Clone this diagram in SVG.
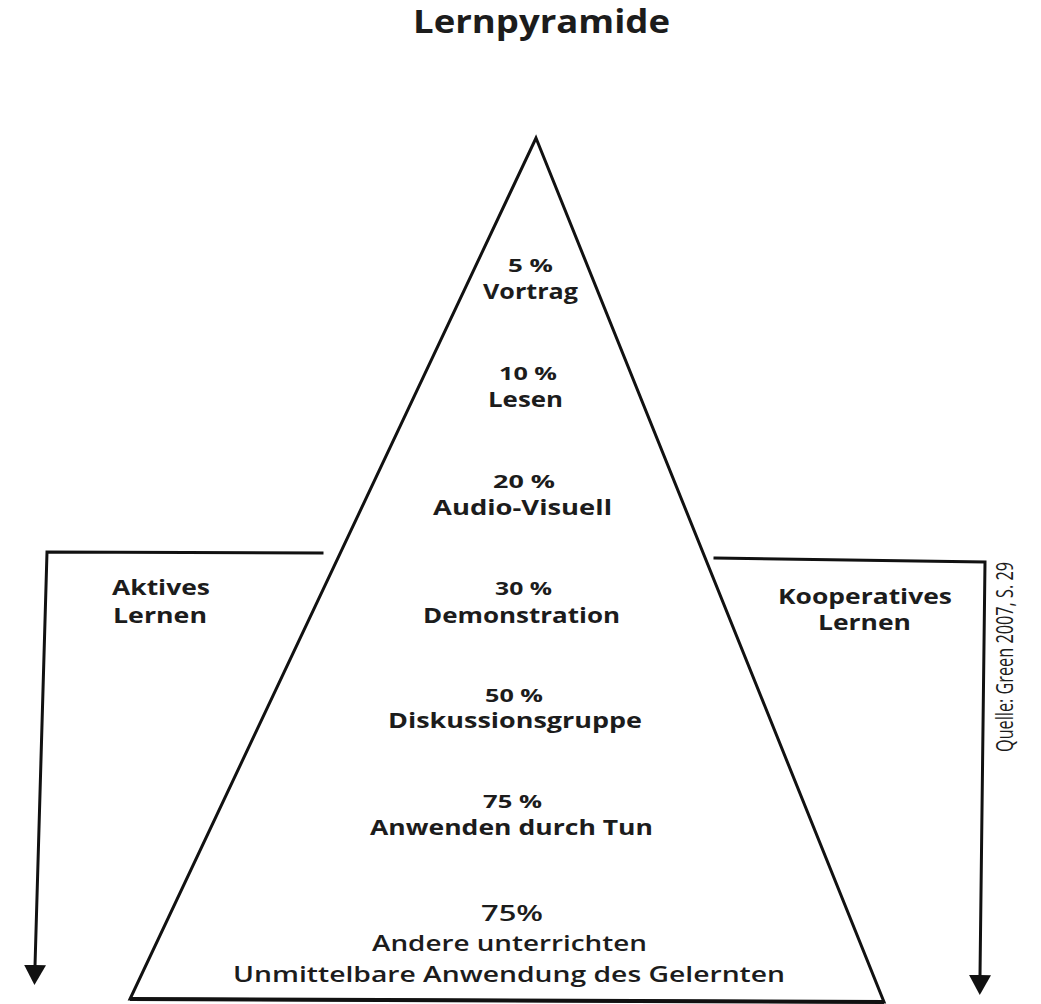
<svg xmlns="http://www.w3.org/2000/svg" width="1041" height="1004" viewBox="0 0 1041 1004">
  <style>
    .t { font-family: "Open Sans", "Liberation Sans", sans-serif; fill: #1c1c1c; text-anchor: middle; }
    .b { font-weight: 700; }
    .sb { font-weight: 600; }
    .pct { font-size: 18px; }
    .lbl { font-size: 21px; }
    .low { font-size: 21.5px; }
    .ln { fill: none; stroke: #111; stroke-width: 3; stroke-linejoin: miter; stroke-linecap: square; }
  </style>
  <defs>
    <marker id="arrow" viewBox="0 0 20 22" markerWidth="20" markerHeight="22" refX="1" refY="11" orient="auto" markerUnits="userSpaceOnUse">
      <path d="M0,0 L20,11 L0,22 Z" fill="#111"/>
    </marker>
  </defs>
  <rect width="1041" height="1004" fill="#ffffff"/>

  <g id="title">
    <text class="t b" x="541.5" y="33" font-size="32" textLength="257" lengthAdjust="spacingAndGlyphs">Lernpyramide</text>
  </g>

  <g id="pyramid">
    <path class="ln" d="M536,138 L884,1002 L130,999 Z"/>
    <path d="M130,999 L884,1002" stroke="#111" stroke-width="4" fill="none"/>
  </g>

  <g id="connectors">
    <path class="ln" d="M322,553 L47,552 L35,966" marker-end="url(#arrow)"/>
    <path class="ln" d="M715,558 L985,562 L980,976" marker-end="url(#arrow)"/>
  </g>

  <g id="level-vortrag">
    <text class="t b pct" x="530.5" y="272" textLength="45" lengthAdjust="spacingAndGlyphs">5 %</text>
    <text class="t b lbl" x="530.5" y="299" textLength="95" lengthAdjust="spacingAndGlyphs">Vortrag</text>
  </g>
  <g id="level-lesen">
    <text class="t b pct" x="528" y="380" textLength="58" lengthAdjust="spacingAndGlyphs">10 %</text>
    <text class="t b lbl" x="525.5" y="407" textLength="75" lengthAdjust="spacingAndGlyphs">Lesen</text>
  </g>
  <g id="level-audio">
    <text class="t b pct" x="524" y="488" textLength="62" lengthAdjust="spacingAndGlyphs">20 %</text>
    <text class="t b lbl" x="522.5" y="515" textLength="179" lengthAdjust="spacingAndGlyphs">Audio-Visuell</text>
  </g>
  <g id="level-demo">
    <text class="t b pct" x="523.5" y="595" textLength="57" lengthAdjust="spacingAndGlyphs">30 %</text>
    <text class="t b lbl" x="521.5" y="623" textLength="197" lengthAdjust="spacingAndGlyphs">Demonstration</text>
  </g>
  <g id="level-diskussion">
    <text class="t b pct" x="514" y="702" textLength="58" lengthAdjust="spacingAndGlyphs">50 %</text>
    <text class="t b lbl" x="515" y="728" textLength="254" lengthAdjust="spacingAndGlyphs">Diskussionsgruppe</text>
  </g>
  <g id="level-tun">
    <text class="t b pct" x="512.5" y="808" textLength="59" lengthAdjust="spacingAndGlyphs">75 %</text>
    <text class="t b lbl" x="511.5" y="835" textLength="283" lengthAdjust="spacingAndGlyphs">Anwenden durch Tun</text>
  </g>
  <g id="level-unterrichten">
    <text class="t sb low" x="512" y="921" textLength="62" lengthAdjust="spacingAndGlyphs">75%</text>
    <text class="t sb low" x="509.5" y="951" textLength="275" lengthAdjust="spacingAndGlyphs">Andere unterrichten</text>
    <text class="t sb low" x="509" y="982" textLength="552" lengthAdjust="spacingAndGlyphs">Unmittelbare Anwendung des Gelernten</text>
  </g>

  <g id="aktives-lernen">
    <text class="t b lbl" x="161" y="595" textLength="98" lengthAdjust="spacingAndGlyphs">Aktives</text>
    <text class="t b lbl" x="160" y="623" textLength="94" lengthAdjust="spacingAndGlyphs">Lernen</text>
  </g>
  <g id="kooperatives-lernen">
    <text class="t b lbl" x="865" y="604" textLength="174" lengthAdjust="spacingAndGlyphs">Kooperatives</text>
    <text class="t b lbl" x="864.5" y="630" textLength="93" lengthAdjust="spacingAndGlyphs">Lernen</text>
  </g>

  <g id="source">
    <text class="t" x="0" y="0" font-size="24" textLength="190" lengthAdjust="spacingAndGlyphs" transform="translate(1013,752) rotate(-90)" style="text-anchor:start">Quelle: Green 2007, S. 29</text>
  </g>
</svg>
